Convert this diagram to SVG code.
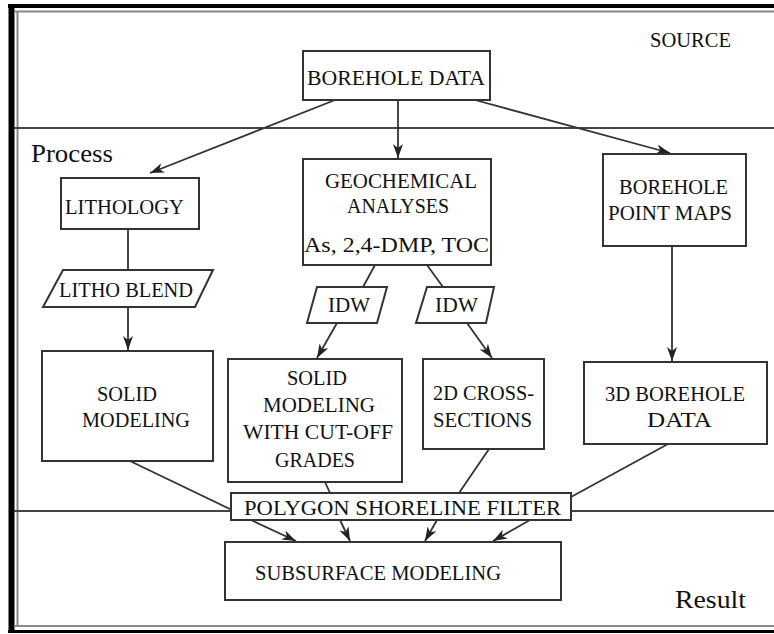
<svg xmlns="http://www.w3.org/2000/svg" width="774" height="634" viewBox="0 0 774 634">
<defs>
<marker id="ah" markerUnits="userSpaceOnUse" markerWidth="14" markerHeight="10" refX="14" refY="5" orient="auto">
<path d="M0,0 L14,5 L0,10 L4,5 Z" fill="#222"/>
</marker>
<style>
.box{fill:#fff;stroke:#333;stroke-width:2}
.t{font-family:"Liberation Serif","Times New Roman",serif;font-size:22px;fill:#111}
.lbl{font-family:"Liberation Serif","Times New Roman",serif;font-size:25px;fill:#111}
.c{stroke:#333;stroke-width:1.8;fill:none}
.ca{stroke:#333;stroke-width:1.8;fill:none;marker-end:url(#ah)}
.frame{stroke:#000;fill:none}
.gray{stroke:#888;stroke-width:2;fill:none}
.div{stroke:#444;stroke-width:1.8}
</style>
</defs>
<rect width="774" height="634" fill="#fff"/>
<g id="frame">
<line class="frame" x1="11.5" y1="4" x2="11.5" y2="633" stroke-width="6"/>
<line class="frame" x1="8" y1="6" x2="774" y2="6" stroke-width="4"/>
<line class="frame" x1="8" y1="631.5" x2="774" y2="631.5" stroke-width="3"/>
<line class="gray" x1="15" y1="11.5" x2="774" y2="11.5"/>
<line class="gray" x1="17.5" y1="11" x2="17.5" y2="627"/>
<line class="gray" x1="15" y1="626" x2="774" y2="626"/>
<line class="div" x1="14" y1="128" x2="774" y2="128"/>
<line class="div" x1="14" y1="511" x2="774" y2="511"/>
</g>
<g id="section-labels">
<text class="t" x="650" y="47" textLength="81" lengthAdjust="spacingAndGlyphs">SOURCE</text>
<text class="lbl" x="31" y="162" textLength="82" lengthAdjust="spacingAndGlyphs">Process</text>
<text class="lbl" x="675" y="608" textLength="71" lengthAdjust="spacingAndGlyphs">Result</text>
</g>
<g id="connectors">
<line class="ca" x1="335" y1="100" x2="150" y2="173"/>
<line class="ca" x1="398" y1="100" x2="398" y2="158"/>
<line class="ca" x1="475" y1="100" x2="670" y2="153"/>
<line class="c" x1="128" y1="229" x2="128" y2="270"/>
<line class="ca" x1="128" y1="307" x2="128" y2="350"/>
<line class="c" x1="375" y1="265" x2="363" y2="287"/>
<line class="c" x1="427" y1="265" x2="443" y2="287"/>
<line class="ca" x1="337" y1="323" x2="317" y2="358"/>
<line class="ca" x1="467" y1="323" x2="492" y2="358"/>
<line class="ca" x1="672" y1="246" x2="672" y2="361"/>
<line class="c" x1="130" y1="461" x2="232" y2="510"/>
<line class="c" x1="325" y1="482" x2="330" y2="493"/>
<line class="c" x1="489" y1="449" x2="459" y2="493"/>
<line class="c" x1="668" y1="444" x2="571" y2="497"/>
<line class="ca" x1="251" y1="520" x2="296" y2="541"/>
<line class="ca" x1="340" y1="520" x2="350" y2="541"/>
<line class="ca" x1="437" y1="520" x2="425" y2="541"/>
<line class="ca" x1="530" y1="520" x2="493" y2="541"/>
</g>
<g id="borehole-data">
<rect class="box" x="303" y="51" width="187" height="49"/>
<text class="t" x="307" y="85" textLength="178" lengthAdjust="spacingAndGlyphs">BOREHOLE DATA</text>
</g>
<g id="lithology">
<rect class="box" x="61" y="178" width="138" height="51"/>
<text class="t" x="65" y="214" textLength="119" lengthAdjust="spacingAndGlyphs">LITHOLOGY</text>
</g>
<g id="geochemical">
<rect class="box" x="303" y="159" width="188" height="106"/>
<text class="t" x="325" y="188" textLength="152" lengthAdjust="spacingAndGlyphs">GEOCHEMICAL</text>
<text class="t" x="347" y="213" textLength="102" lengthAdjust="spacingAndGlyphs">ANALYSES</text>
<text class="t" x="304" y="252" textLength="185" lengthAdjust="spacingAndGlyphs">As, 2,4-DMP, TOC</text>
</g>
<g id="borehole-point-maps">
<rect class="box" x="603" y="154" width="143" height="92"/>
<text class="t" x="619" y="194" textLength="109" lengthAdjust="spacingAndGlyphs">BOREHOLE</text>
<text class="t" x="608" y="220" textLength="124" lengthAdjust="spacingAndGlyphs">POINT MAPS</text>
</g>
<g id="litho-blend">
<polygon class="box" points="63,270 213,270 195,307 43,307"/>
<text class="t" x="59" y="297" textLength="134" lengthAdjust="spacingAndGlyphs">LITHO BLEND</text>
</g>
<g id="idw-1">
<polygon class="box" points="317,287 387,287 377,323 307,323"/>
<text class="t" x="328" y="312" textLength="42" lengthAdjust="spacingAndGlyphs">IDW</text>
</g>
<g id="idw-2">
<polygon class="box" points="427,287 494,287 486,323 416,323"/>
<text class="t" x="435" y="312" textLength="43" lengthAdjust="spacingAndGlyphs">IDW</text>
</g>
<g id="solid-modeling">
<rect class="box" x="42" y="351" width="171" height="110"/>
<text class="t" x="97" y="401" textLength="60" lengthAdjust="spacingAndGlyphs">SOLID</text>
<text class="t" x="82" y="427" textLength="108" lengthAdjust="spacingAndGlyphs">MODELING</text>
</g>
<g id="solid-modeling-cutoff">
<rect class="box" x="228" y="359" width="174" height="123"/>
<text class="t" x="287" y="385" textLength="60" lengthAdjust="spacingAndGlyphs">SOLID</text>
<text class="t" x="263" y="412" textLength="112" lengthAdjust="spacingAndGlyphs">MODELING</text>
<text class="t" x="243" y="439" textLength="150" lengthAdjust="spacingAndGlyphs">WITH CUT-OFF</text>
<text class="t" x="275" y="467" textLength="80" lengthAdjust="spacingAndGlyphs">GRADES</text>
</g>
<g id="cross-sections">
<rect class="box" x="423" y="359" width="121" height="90"/>
<text class="t" x="433" y="400" textLength="101" lengthAdjust="spacingAndGlyphs">2D CROSS-</text>
<text class="t" x="433" y="427" textLength="99" lengthAdjust="spacingAndGlyphs">SECTIONS</text>
</g>
<g id="borehole-3d">
<rect class="box" x="584" y="362" width="183" height="82"/>
<text class="t" x="605" y="401" textLength="140" lengthAdjust="spacingAndGlyphs">3D BOREHOLE</text>
<text class="t" x="647" y="427" textLength="65" lengthAdjust="spacingAndGlyphs">DATA</text>
</g>
<g id="polygon-filter">
<rect class="box" x="231" y="493" width="340" height="27"/>
<text class="t" x="244" y="515" textLength="317" lengthAdjust="spacingAndGlyphs">POLYGON SHORELINE FILTER</text>
</g>
<g id="subsurface">
<rect class="box" x="225" y="542" width="336" height="58"/>
<text class="t" x="255" y="580" textLength="246" lengthAdjust="spacingAndGlyphs">SUBSURFACE MODELING</text>
</g>
</svg>
